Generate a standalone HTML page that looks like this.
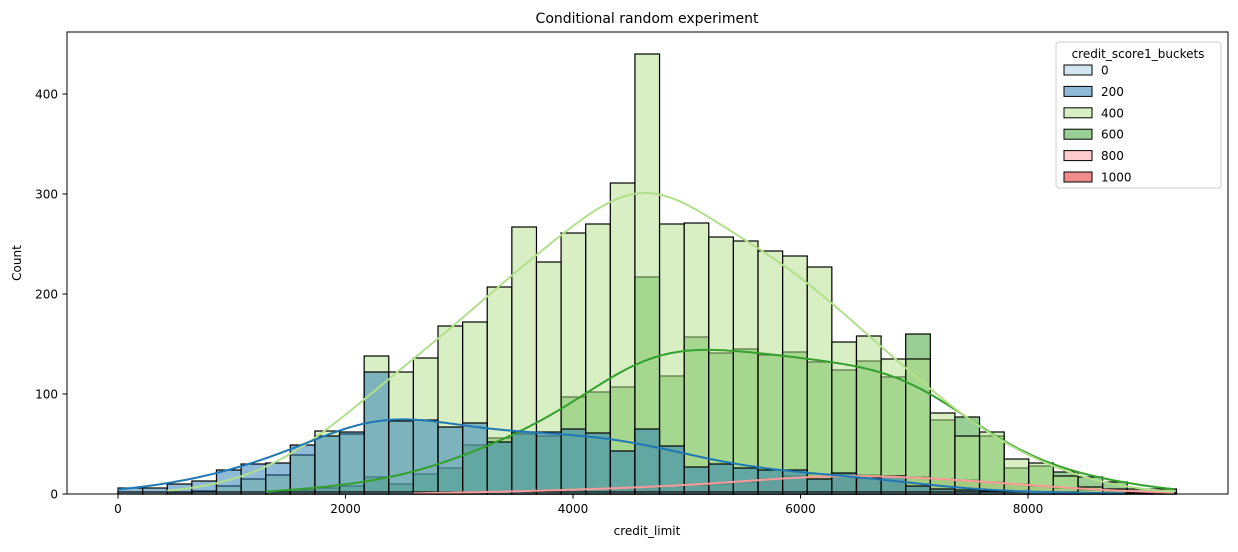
<!DOCTYPE html>
<html><head><meta charset="utf-8"><style>
body{margin:0;background:#fff}
svg{font-family:"DejaVu Sans","Liberation Sans",sans-serif}
</style></head><body>
<svg id="chart" width="1238" height="547" viewBox="0 0 1238 547" xmlns="http://www.w3.org/2000/svg">
<rect width="1238" height="547" fill="#fff"/>
<text x="647" y="23" font-size="14" text-anchor="middle">Conditional random experiment</text>
<g id="bars"></g><g id="kdes"></g>
<rect x="67" y="32" width="1161" height="462" fill="none" stroke="#000" stroke-width="1"/>
<g id="axes"></g>
<text x="647" y="535" font-size="12" text-anchor="middle">credit_limit</text>
<text x="21" y="263" font-size="12" text-anchor="middle" transform="rotate(-90 21 263)">Count</text>
<g id="legend"></g>
</svg>
<script>
const hueLabels=["0","200","400","600","800","1000"];
const hueColors=["#a6cee3","#1f78b4","#b2df8a","#33a02c","#fb9a99","#e31a1c"];
const binStart=0, binWidth=216.4;
const xTicks=[0,2000,4000,6000,8000];
const yTicks=[0,100,200,300,400];
const c0=[2,2,2,2,2,2,2,2,2,2,2,2,2,2,2,2,2,2,2,2,2,2,2,2,2,2,2,2,2,2,2,2,2,2,2,2,2,2,2,1,1,1,1];
const c200=[6,6,10,13,24,30,31,49,58,62,122,73,74,67,71,52,62,62,65,61,43,65,48,27,30,26,24,24,15,21,16,18,8,5,4,3,2,2,1,1,1,0,0];
const c400=[0,0,1,3,8,15,19,39,63,60,138,122,136,168,172,207,267,232,261,270,311,440,270,271,257,253,243,238,227,152,158,135,135,81,58,62,35,31,18,7,5,2,1];
const c600=[0,0,0,0,0,0,2,4,6,8,17,10,20,26,49,56,60,58,97,102,107,217,118,157,141,145,139,142,132,124,133,117,160,74,77,58,26,28,22,17,12,5,5];
const c800=[0,0,0,0,0,0,0,0,0,0,0,0,1,1,2,2,3,3,4,5,6,7,8,9,10,12,15,18,20,20,19,18,17,15,14,12,10,8,6,4,3,2,1];
const c1000=[0,0,0,0,0,0,0,0,0,0,0,0,0,0,0,0,0,0,0,0,0,0,1,1,1,1,1,1,1,1,1,1,1,1,1,1,1,0,0,0,0,0,0];
const series=[c0,c200,c400,c600,c800,c1000];
const X=v=>118+(v-0)*0.11375;
const Y=v=>494-v*1.0;
const NS="http://www.w3.org/2000/svg";
function mk(t,a,p){const e=document.createElementNS(NS,t);for(const k in a)e.setAttribute(k,a[k]);p.appendChild(e);return e;}
const bars=document.getElementById('bars'),kdes=document.getElementById('kdes'),axes=document.getElementById('axes'),leg=document.getElementById('legend');
const order=[5,4,3,2,1,0];
order.forEach(h=>{const s=series[h];s.forEach((v,i)=>{if(v<=0)return;
 const x0=X(binStart+i*binWidth),x1=X(binStart+(i+1)*binWidth);
 const r=mk('rect',{x:x0,y:Y(v),width:x1-x0,height:Y(0)-Y(v),fill:hueColors[h],'fill-opacity':0.5,stroke:'#000','stroke-width':1.2},bars);
 
 
});});
[4,3,2,1].forEach(h=>{const s=series[h];let first=s.findIndex(v=>v>0),last=s.length-1;while(s[last]<=0)last--;
 const bw=2.3;let pts=[];
 for(let t=first;t<=last+1;t+=0.1){let sum=0;for(let i=0;i<s.length;i++){const d=(t-(i+0.5))/bw;sum+=s[i]*Math.exp(-0.5*d*d)/(bw*Math.sqrt(2*Math.PI));}
  pts.push(X(binStart+t*binWidth).toFixed(1)+','+Y(sum).toFixed(1));}
 const p=mk('polyline',{points:pts.join(' '),fill:'none',stroke:hueColors[h],'stroke-width':2},kdes);
 
 
});
xTicks.forEach(v=>{const l=mk('line',{x1:X(v),x2:X(v),y1:494,y2:498.5,stroke:'#000'},axes);
 
 
 const t=mk('text',{x:X(v),y:513,'font-size':12,'text-anchor':'middle'},axes);t.textContent=v;
 
 });
yTicks.forEach(v=>{const l=mk('line',{x1:62.5,x2:67,y1:Y(v),y2:Y(v),stroke:'#000'},axes);
 
 
 const t=mk('text',{x:58,y:Y(v)+4.5,'font-size':12,'text-anchor':'end'},axes);t.textContent=v;
 
 });
const box=mk('rect',{x:1056,y:42,width:165,height:146,rx:3,fill:'#fff','fill-opacity':0.8,stroke:'#ccc'},leg);


const lt=mk('text',{x:1138,y:58,'font-size':12,'text-anchor':'middle'},leg);lt.textContent='credit_score1_buckets';


hueLabels.forEach((lab,h)=>{const y=70+h*21.4;
 const r=mk('rect',{x:1064,y:y-5,width:28,height:10,fill:hueColors[h],'fill-opacity':0.5,stroke:'#000','stroke-width':1},leg);
 
 
 const t=mk('text',{x:1101,y:y+4.5,'font-size':12},leg);t.textContent=lab;
 
 });
</script>
</body></html>
